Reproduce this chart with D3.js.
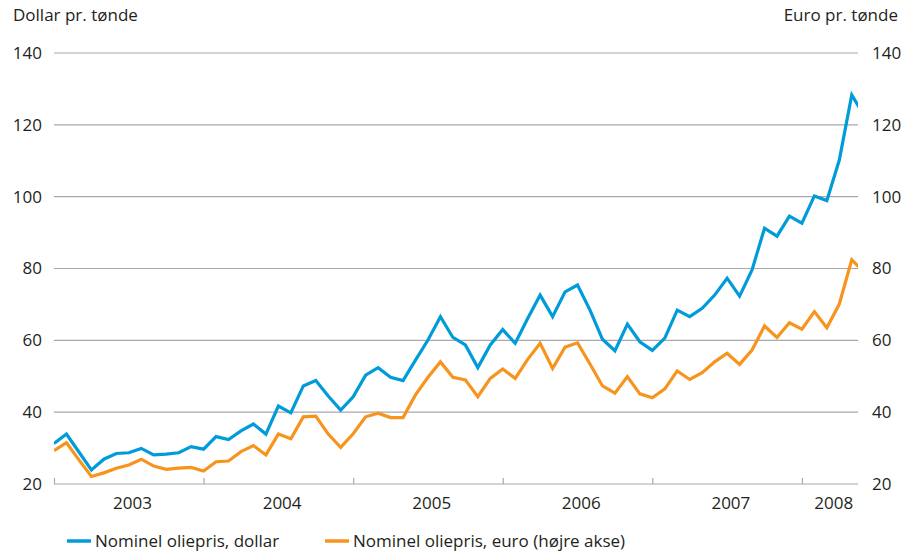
<!DOCTYPE html>
<html>
<head>
<meta charset="utf-8">
<script src="https://cdn.jsdelivr.net/npm/d3@7"></script>
<style>
  body { margin: 0; background: #fff; }
  text { font-family: "Open Sans", sans-serif; fill: #231f20; }
</style>
</head>
<body>
<div id="chart"></div>
<script>
// Data: monthly oil price, Jan 2003 onwards
var years = ["2003", "2004", "2005", "2006", "2007", "2008"];
var seriesNames = ["Nominel oliepris, dollar", "Nominel oliepris, euro (højre akse)"];
var yTicks = [20, 40, 60, 80, 100, 120, 140];

var dollar = [31.3, 33.9, 28.9, 23.9, 26.9, 28.5, 28.7, 29.9, 28.1, 28.3, 28.7, 30.4,
  29.7, 33.2, 32.4, 34.8, 36.7, 33.9, 41.7, 39.8, 47.3, 48.8, 44.5, 40.6,
  44.3, 50.3, 52.4, 49.7, 48.8, 54.5, 60.1, 66.6, 60.8, 58.7, 52.4, 58.7,
  63.0, 59.2, 66.1, 72.6, 66.6, 73.5, 75.4, 68.4, 60.3, 57.1, 64.5, 59.6,
  57.2, 60.6, 68.4, 66.6, 68.9, 72.6, 77.3, 72.3, 79.6, 91.2, 89.0, 94.6,
  92.6, 100.2, 98.9, 110.2, 128.3, 122.5];

var euro = [29.3, 31.5, 26.7, 22.1, 23.1, 24.4, 25.3, 26.9, 25.0, 24.1, 24.4, 24.6,
  23.6, 26.2, 26.4, 29.0, 30.7, 28.1, 33.9, 32.6, 38.7, 38.9, 33.9, 30.2,
  34.0, 38.7, 39.7, 38.5, 38.5, 44.8, 49.7, 54.0, 49.7, 49.0, 44.3, 49.4,
  52.0, 49.4, 54.7, 59.2, 52.2, 58.1, 59.3, 53.4, 47.3, 45.3, 49.9, 45.1,
  44.0, 46.5, 51.5, 49.1, 51.0, 54.0, 56.4, 53.3, 57.3, 64.0, 60.8, 64.9,
  63.1, 68.0, 63.5, 70.1, 82.4, 79.0];

var colors = ["#009bd9", "#f7941d"];
var fontSize = "17px";

var svgWidth = 906;
var svgHeight = 555;

var margin = { top: 53, right: 48, bottom: 71, left: 54 };
var width = svgWidth - margin.left - margin.right;
var height = svgHeight - margin.top - margin.bottom;

var svg = d3.select("#chart")
  .append("svg")
  .attr("width", svgWidth)
  .attr("height", svgHeight);

var chartGroup = svg.append("g")
  .attr("transform", `translate(${margin.left}, ${margin.top})`);

// Scales (x = month index from Jan 2003)
var xScale = d3.scaleLinear()
  .domain([0, 64.5])
  .range([0, width]);

var yLeft = d3.scaleLinear()
  .domain([20, 140])
  .range([height, 0]);

var yRight = d3.scaleLinear()
  .domain([20, 140])
  .range([height, 0]);

// Grid lines
chartGroup.append("g")
  .selectAll("line")
  .data(yTicks)
  .enter()
  .append("line")
  .attr("x1", 0)
  .attr("x2", width)
  .attr("y1", d => yLeft(d))
  .attr("y2", d => yLeft(d))
  .attr("stroke", "#a7a9ac")
  .attr("stroke-width", 1.2);

// Left and right axes (labels only)
var leftAxis = d3.axisLeft(yLeft).tickValues(yTicks).tickSize(0).tickPadding(12);
var rightAxis = d3.axisRight(yRight).tickValues(yTicks).tickSize(0).tickPadding(14);

chartGroup.append("g")
  .call(leftAxis)
  .call(g => g.select(".domain").remove())
  .selectAll("text")
  .style("font-size", fontSize)
  .style("font-family", "Open Sans")
  .attr("fill", "#231f20");

chartGroup.append("g")
  .attr("transform", `translate(${width}, 0)`)
  .call(rightAxis)
  .call(g => g.select(".domain").remove())
  .selectAll("text")
  .style("font-size", fontSize)
  .style("font-family", "Open Sans")
  .attr("fill", "#231f20");

// Year ticks on x axis (pointing up into the plot)
var bottomAxis = d3.axisBottom(xScale)
  .tickValues(years.map((y, i) => i * 12))
  .tickSize(-6)
  .tickFormat("");

chartGroup.append("g")
  .attr("transform", `translate(0, ${height})`)
  .call(bottomAxis)
  .call(g => g.select(".domain").remove())
  .selectAll("line")
  .attr("stroke", "#a7a9ac")
  .attr("stroke-width", 1.2);

// Year labels, centered in each year
chartGroup.append("g")
  .selectAll("text")
  .data(years)
  .enter()
  .append("text")
  .attr("x", (d, i) => xScale((i * 12 + Math.min(i * 12 + 12, 64.5)) / 2 + 0.3))
  .attr("y", height + 25)
  .attr("text-anchor", "middle")
  .style("font-size", fontSize)
  .text(d => d);

// Lines
chartGroup.append("clipPath")
  .attr("id", "plotclip")
  .append("rect")
  .attr("x", 0)
  .attr("y", -10)
  .attr("width", width)
  .attr("height", height + 20);

var line = d3.line()
  .x((d, i) => xScale(i))
  .y(d => yLeft(d));

var lineRight = d3.line()
  .x((d, i) => xScale(i))
  .y(d => yRight(d));

chartGroup.append("path")
  .datum(euro)
  .attr("clip-path", "url(#plotclip)")
  .attr("fill", "none")
  .attr("stroke", colors[1])
  .attr("stroke-width", 3.2)
  .attr("d", lineRight);

chartGroup.append("path")
  .datum(dollar)
  .attr("clip-path", "url(#plotclip)")
  .attr("fill", "none")
  .attr("stroke", colors[0])
  .attr("stroke-width", 3.2)
  .attr("d", line);

// Axis titles
svg.append("text")
  .attr("x", 13)
  .attr("y", 21)
  .style("font-size", fontSize)
  .text("Dollar pr. tønde");

svg.append("text")
  .attr("x", 898)
  .attr("y", 21)
  .attr("text-anchor", "end")
  .style("font-size", fontSize)
  .text("Euro pr. tønde");

// Legend
var legendX = [67, 325];
var legend = svg.selectAll(".legend")
  .data(seriesNames)
  .enter()
  .append("g")
  .attr("class", "legend")
  .attr("transform", (d, i) => `translate(${legendX[i]}, 541)`);

legend.append("line")
  .attr("x1", 0)
  .attr("x2", 24)
  .attr("stroke", (d, i) => colors[i])
  .attr("stroke-width", 3.5);

legend.append("text")
  .attr("x", 28)
  .attr("y", 6)
  .style("font-size", fontSize)
  .text(d => d);
</script>
</body>
</html>
